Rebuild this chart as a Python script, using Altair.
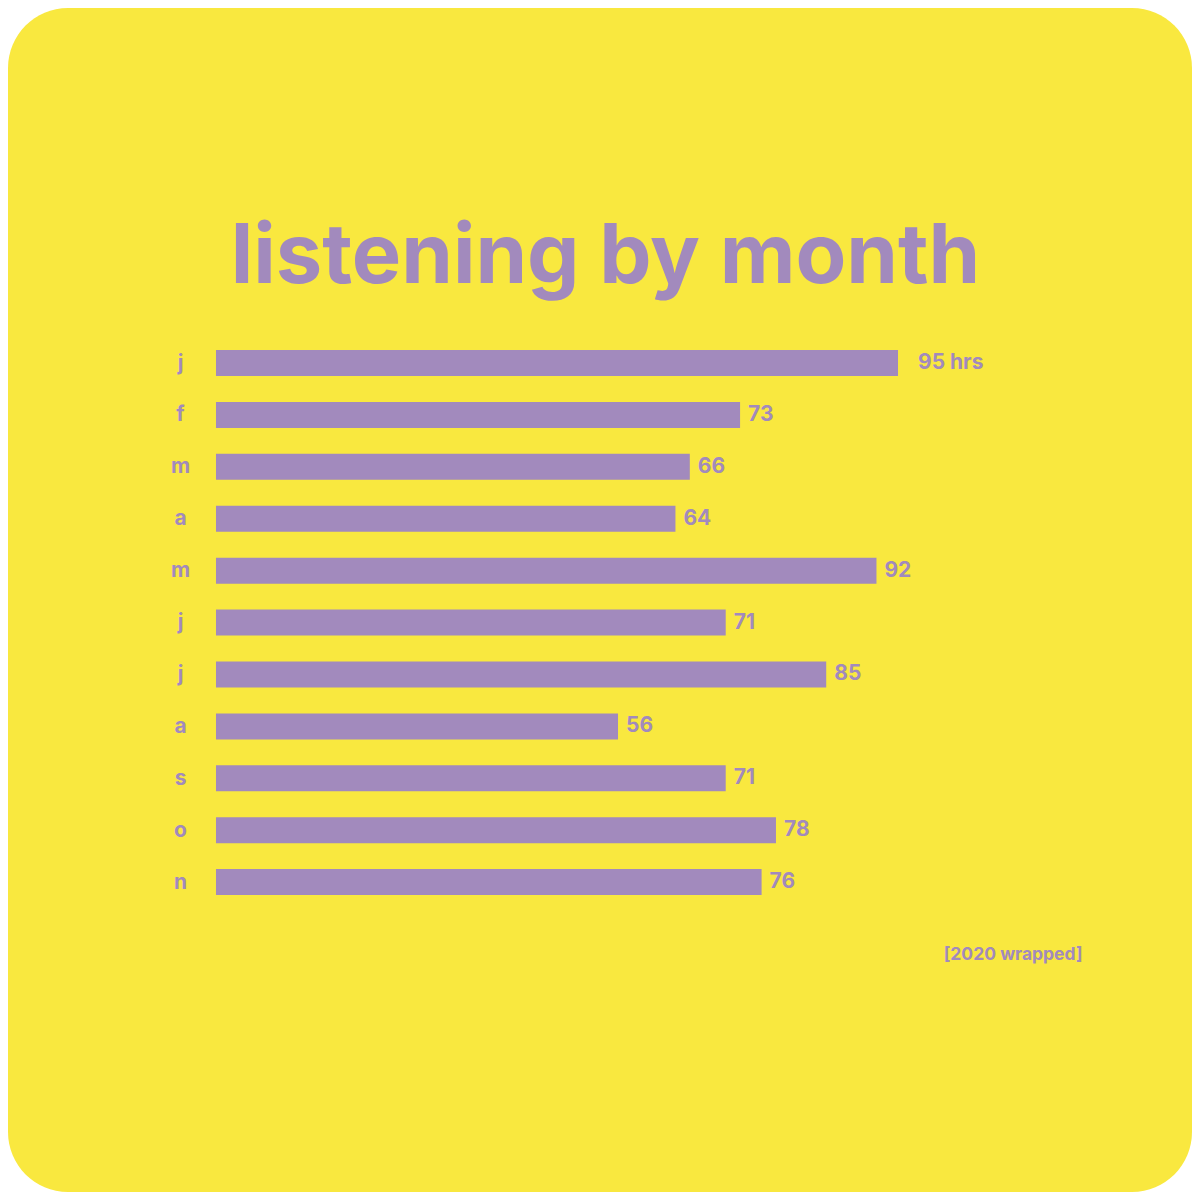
import altair as alt
import pandas as pd

months = ["j", "f", "m", "a", "m", "j", "j", "a", "s", "o", "n"]
hours = [95, 73, 66, 64, 92, 71, 85, 56, 71, 78, 76]
value_labels = ["95 hrs", "73", "66", "64", "92", "71", "85", "56", "71", "78", "76"]
title_text = "listening by month"
footnote_text = "[2020 wrapped]"

YELLOW = "#F9E83F"
PURPLE = "#A28ABD"
FONT = "Inter"
W = 1184
H = 1184

df = pd.DataFrame({
    "row": list(range(len(months))),
    "month": months,
    "hours": hours,
    "label": value_labels,
})

xscale = alt.Scale(domain=[-28.97, 135.95], nice=False, zero=False, padding=0)
yscale = alt.Scale(domain=[-6.84, 15.97], nice=False, zero=False, reverse=True, padding=0)

label_expr = "[" + ",".join("'%s'" % m for m in months) + "][datum.value]"

base = alt.Chart(df)

bars = base.mark_bar(color=PURPLE, orient="horizontal", size=26).encode(
    x=alt.X(
        "hours:Q",
        scale=xscale,
        axis=alt.Axis(
            orient="bottom", labels=False, ticks=False, domain=False, grid=False,
            title=footnote_text, titleX=1074, titleY=-233, titleAlign="right",
            titleBaseline="alphabetic", titleFont=FONT, titleFontSize=17.5,
            titleFontWeight="bold", titleColor=PURPLE,
        ),
    ),
    y=alt.Y(
        "row:Q",
        scale=yscale,
        axis=alt.Axis(
            orient="left", values=list(range(len(months))), labelExpr=label_expr,
            ticks=False, tickSize=0, domain=False, grid=False, labelPadding=0,
            labelAlign="center", labelBaseline="middle", labelFont=FONT,
            labelFontSize=21, labelFontWeight="bold", labelColor=PURPLE,
            labelFlush=False, labelOverlap=False, offset=-172, title=None,
        ),
    ),
)

text_style = dict(align="left", baseline="middle", font=FONT, fontSize=21,
                  fontWeight="bold", color=PURPLE)

labels_rest = base.transform_filter("datum.row > 0").mark_text(dx=8, **text_style).encode(
    x=alt.X(
        "hours:Q",
        scale=xscale,
        axis=alt.Axis(
            orient="top", labels=False, ticks=False, domain=False, grid=False,
            title=title_text, titleX=597, titleY=274, titleAlign="center",
            titleBaseline="alphabetic", titleFont=FONT, titleFontSize=83,
            titleFontWeight="bold", titleColor=PURPLE,
        ),
    ),
    y=alt.Y("row:Q", scale=yscale, axis=None),
    text="label:N",
)

label_first = base.transform_filter("datum.row == 0").mark_text(dx=20, **text_style).encode(
    x=alt.X("hours:Q", scale=xscale, axis=None),
    y=alt.Y("row:Q", scale=yscale, axis=None),
    text="label:N",
)

chart = alt.layer(bars, labels_rest, label_first).resolve_axis(
    x="independent", y="independent"
).properties(
    width=W, height=H, padding=0, autosize="none", background="white"
).configure_view(
    fill=YELLOW, cornerRadius=60, strokeWidth=0
)

chart.save("out.html", embed_options={"renderer": "svg", "actions": False})
